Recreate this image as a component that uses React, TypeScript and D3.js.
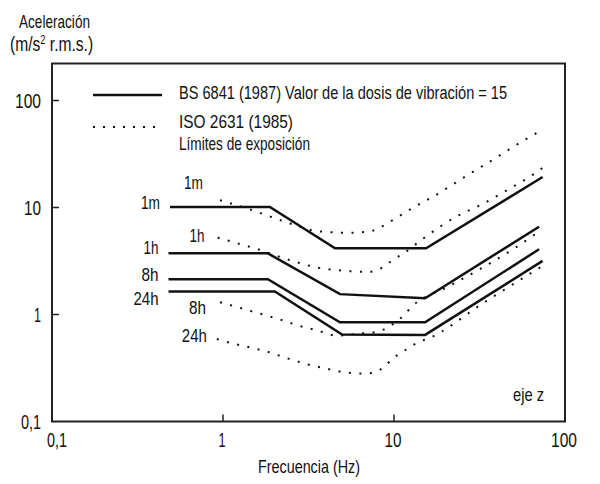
import React from 'react';
import * as d3 from 'd3';

// ---- axis ticks ----
const xTickValues = [0.1, 1, 10, 100];
const xTickLabels = ['0,1', '1', '10', '100'];
const yTickValues = [0.1, 1, 10, 100];
const yTickLabels = ['0,1', '1', '10', '100'];

// ---- BS 6841 (1987) VDV = 15 (solid) ----
const bs1mFreq = [0.49, 1.88, 4.52, 15.4, 74];
const bs1mAcc = [10.1, 10.1, 4.15, 4.15, 19.3];
const bs1hFreq = [0.48, 1.83, 4.83, 15.2, 70.5];
const bs1hAcc = [3.73, 3.73, 1.55, 1.42, 6.61];
const bs8hFreq = [0.48, 1.83, 4.83, 15.2, 70.5];
const bs8hAcc = [2.14, 2.14, 0.846, 0.846, 4.07];
const bs24hFreq = [0.48, 2.01, 4.97, 15.2, 74];
const bs24hAcc = [1.64, 1.64, 0.65, 0.645, 3.17];

// ---- ISO 2631 (1985) exposure limits (dotted) ----
const iso1mFreq = [0.96, 1.44, 2.37, 3.55, 5.31, 7.24, 8.06, 10.4, 13.3, 16.9, 26.7, 37.9, 54.5, 68.6];
const iso1mAcc = [11.7, 9.58, 7.25, 6.02, 5.81, 5.97, 6.37, 8.07, 10.2, 12.6, 19.9, 28.0, 40.3, 49.9];
const iso1hFreq = [0.93, 1.22, 1.6, 2.37, 3.55, 5.31, 7.05, 8.06, 9.1, 10.1, 11.4, 14.6, 23.4, 32.7, 46.4, 65, 74.3];
const iso1hAcc = [5.23, 4.62, 4.07, 3.28, 2.75, 2.55, 2.5, 2.61, 2.95, 3.32, 3.73, 5.04, 8.3, 10.7, 14.7, 20.3, 23.6];
const iso8hFreq = [0.96, 1.22, 1.6, 2.1, 2.75, 3.55, 4.64, 6.08, 7.95, 9.1, 11.3, 12.9, 20.4, 31.8, 49.6, 73.3];
const iso8hAcc = [1.3, 1.17, 1.03, 0.91, 0.79, 0.71, 0.635, 0.66, 0.69, 0.75, 0.97, 1.21, 1.8, 2.65, 4.07, 6.24];
const iso24hFreq = [0.92, 1.07, 1.38, 1.81, 2.37, 3.1, 4.06, 5.31, 6.77, 8.28, 10.1, 12.4, 13.8, 15.6, 34, 73.3];
const iso24hAcc = [0.59, 0.55, 0.5, 0.45, 0.39, 0.343, 0.311, 0.286, 0.28, 0.305, 0.4, 0.495, 0.55, 0.59, 1.31, 2.82];

const seriesLabels = ['1m', '1h', '8h', '24h'];

const FONT = "'Liberation Sans', Arial, sans-serif";

export default function App() {
  const x = d3.scaleLog().domain([0.1, 100]).range([52, 565]);
  const y = d3.scaleLog().domain([0.1, 100]).range([421.5, 100.5]);
  const yTop = y.invert(63.5);

  const line = d3
    .line<[number, number]>()
    .x((d) => x(d[0]))
    .y((d) => y(d[1]));
  const curve = d3
    .line<[number, number]>()
    .x((d) => x(d[0]))
    .y((d) => y(d[1]))
    .curve(d3.curveMonotoneX);

  const zip = (f: number[], a: number[]) => f.map((v, i) => [v, a[i]] as [number, number]);

  const bs = [
    zip(bs1mFreq, bs1mAcc),
    zip(bs1hFreq, bs1hAcc),
    zip(bs8hFreq, bs8hAcc),
    zip(bs24hFreq, bs24hAcc),
  ];
  const iso = [
    zip(iso1mFreq, iso1mAcc),
    zip(iso1hFreq, iso1hAcc),
    zip(iso8hFreq, iso8hAcc),
    zip(iso24hFreq, iso24hAcc),
  ];

  const bsLabelDy = [2, 1, 2, 13];
  const labelW = [19, 15, 17, 25];
  const isoLabelDx = [-17, -13, -14, -10];
  const isoLabelDy = [-11, 4, 12, 3];
  const tickW: Record<string, number> = { '0,1': 20, '1': 7, '10': 17, '100': 26 };

  const x0 = x(0.1);
  const x1 = x(100);
  const y0 = y(0.1);
  const y1 = y(yTop);

  const txt = { fontFamily: FONT, fontSize: 19, fill: '#111' } as const;
  const fit = (w: number) => ({ textLength: w, lengthAdjust: 'spacingAndGlyphs' as const });

  return (
    <svg
      width={600}
      height={484}
      style={{ position: 'absolute', left: 0, top: 0, background: '#fff' }}
    >
      <rect x={0} y={0} width={600} height={484} fill="#fff" />

      {/* axis title */}
      <text x={19} y={28} {...txt} fontSize={19} {...fit(71)}>
        Aceleración
      </text>
      <text transform="translate(10,51) scale(0.78,1)" {...txt} fontSize={20}>
        (m/s
        <tspan dy={-7} fontSize={12}>2</tspan>
        <tspan dy={7}> r.m.s.)</tspan>
      </text>

      {/* frame */}
      <rect x={x0} y={y1} width={x1 - x0} height={y0 - y1} fill="none" stroke="#222" strokeWidth={2} />

      {/* y ticks */}
      {yTickValues.map((v, i) => (
        <g key={'yt' + i}>
          {v > 0.1 && <line x1={x0} x2={x0 + 7} y1={y(v)} y2={y(v)} stroke="#222" strokeWidth={1.5} />}
          <text x={x0 - 11} y={y(v) + 7} textAnchor="end" {...txt} fontSize={20} {...fit(tickW[yTickLabels[i]])}>
            {yTickLabels[i]}
          </text>
        </g>
      ))}

      {/* x ticks */}
      {xTickValues.map((v, i) => (
        <g key={'xt' + i}>
          {v > 0.1 && v < 100 && <line x1={x(v)} x2={x(v)} y1={y0} y2={y0 - 7} stroke="#222" strokeWidth={1.5} />}
          <text
            x={x(v) + (i === 0 ? 5 : -1)}
            y={y0 + 25}
            textAnchor="middle"
            {...txt}
            fontSize={20}
            {...fit(tickW[xTickLabels[i]])}
          >
            {xTickLabels[i]}
          </text>
        </g>
      ))}

      <text x={309} y={y0 + 51} textAnchor="middle" {...txt} {...fit(102)}>
        Frecuencia (Hz)
      </text>

      <text x={513} y={y0 - 21} {...txt} {...fit(31)}>
        eje z
      </text>

      {/* legend */}
      <line x1={93} x2={162} y1={95} y2={95} stroke="#111" strokeWidth={2.5} />
      <text transform="translate(179,99) scale(0.767,1)" {...txt}>
        BS 6841 (1987) Valor de la dosis de vibración = 15
      </text>
      <line x1={93} x2={156} y1={127} y2={127} stroke="#111" strokeWidth={2} strokeDasharray="2 8" />
      <text x={179} y={128} {...txt} {...fit(114)}>
        ISO 2631 (1985)
      </text>
      <text x={179} y={150} {...txt} {...fit(131)}>
        Límites de exposición
      </text>

      {/* BS solid lines */}
      {bs.map((d, i) => (
        <g key={'bs' + i}>
          <path d={line(d) || ''} fill="none" stroke="#111" strokeWidth={2.5} strokeLinejoin="miter" />
          <text
            x={x(d[0][0]) - 10}
            y={y(d[0][1]) + bsLabelDy[i]}
            textAnchor="end"
            {...txt}
            {...fit(labelW[i])}
          >
            {seriesLabels[i]}
          </text>
        </g>
      ))}

      {/* ISO dotted curves */}
      {iso.map((d, i) => (
        <g key={'iso' + i}>
          <path d={curve(d) || ''} fill="none" stroke="#111" strokeWidth={2} strokeDasharray="2 8.5" />
          <text
            x={x(d[0][0]) + isoLabelDx[i]}
            y={y(d[0][1]) + isoLabelDy[i]}
            textAnchor="end"
            {...txt}
            {...fit(labelW[i])}
          >
            {seriesLabels[i]}
          </text>
        </g>
      ))}
    </svg>
  );
}
